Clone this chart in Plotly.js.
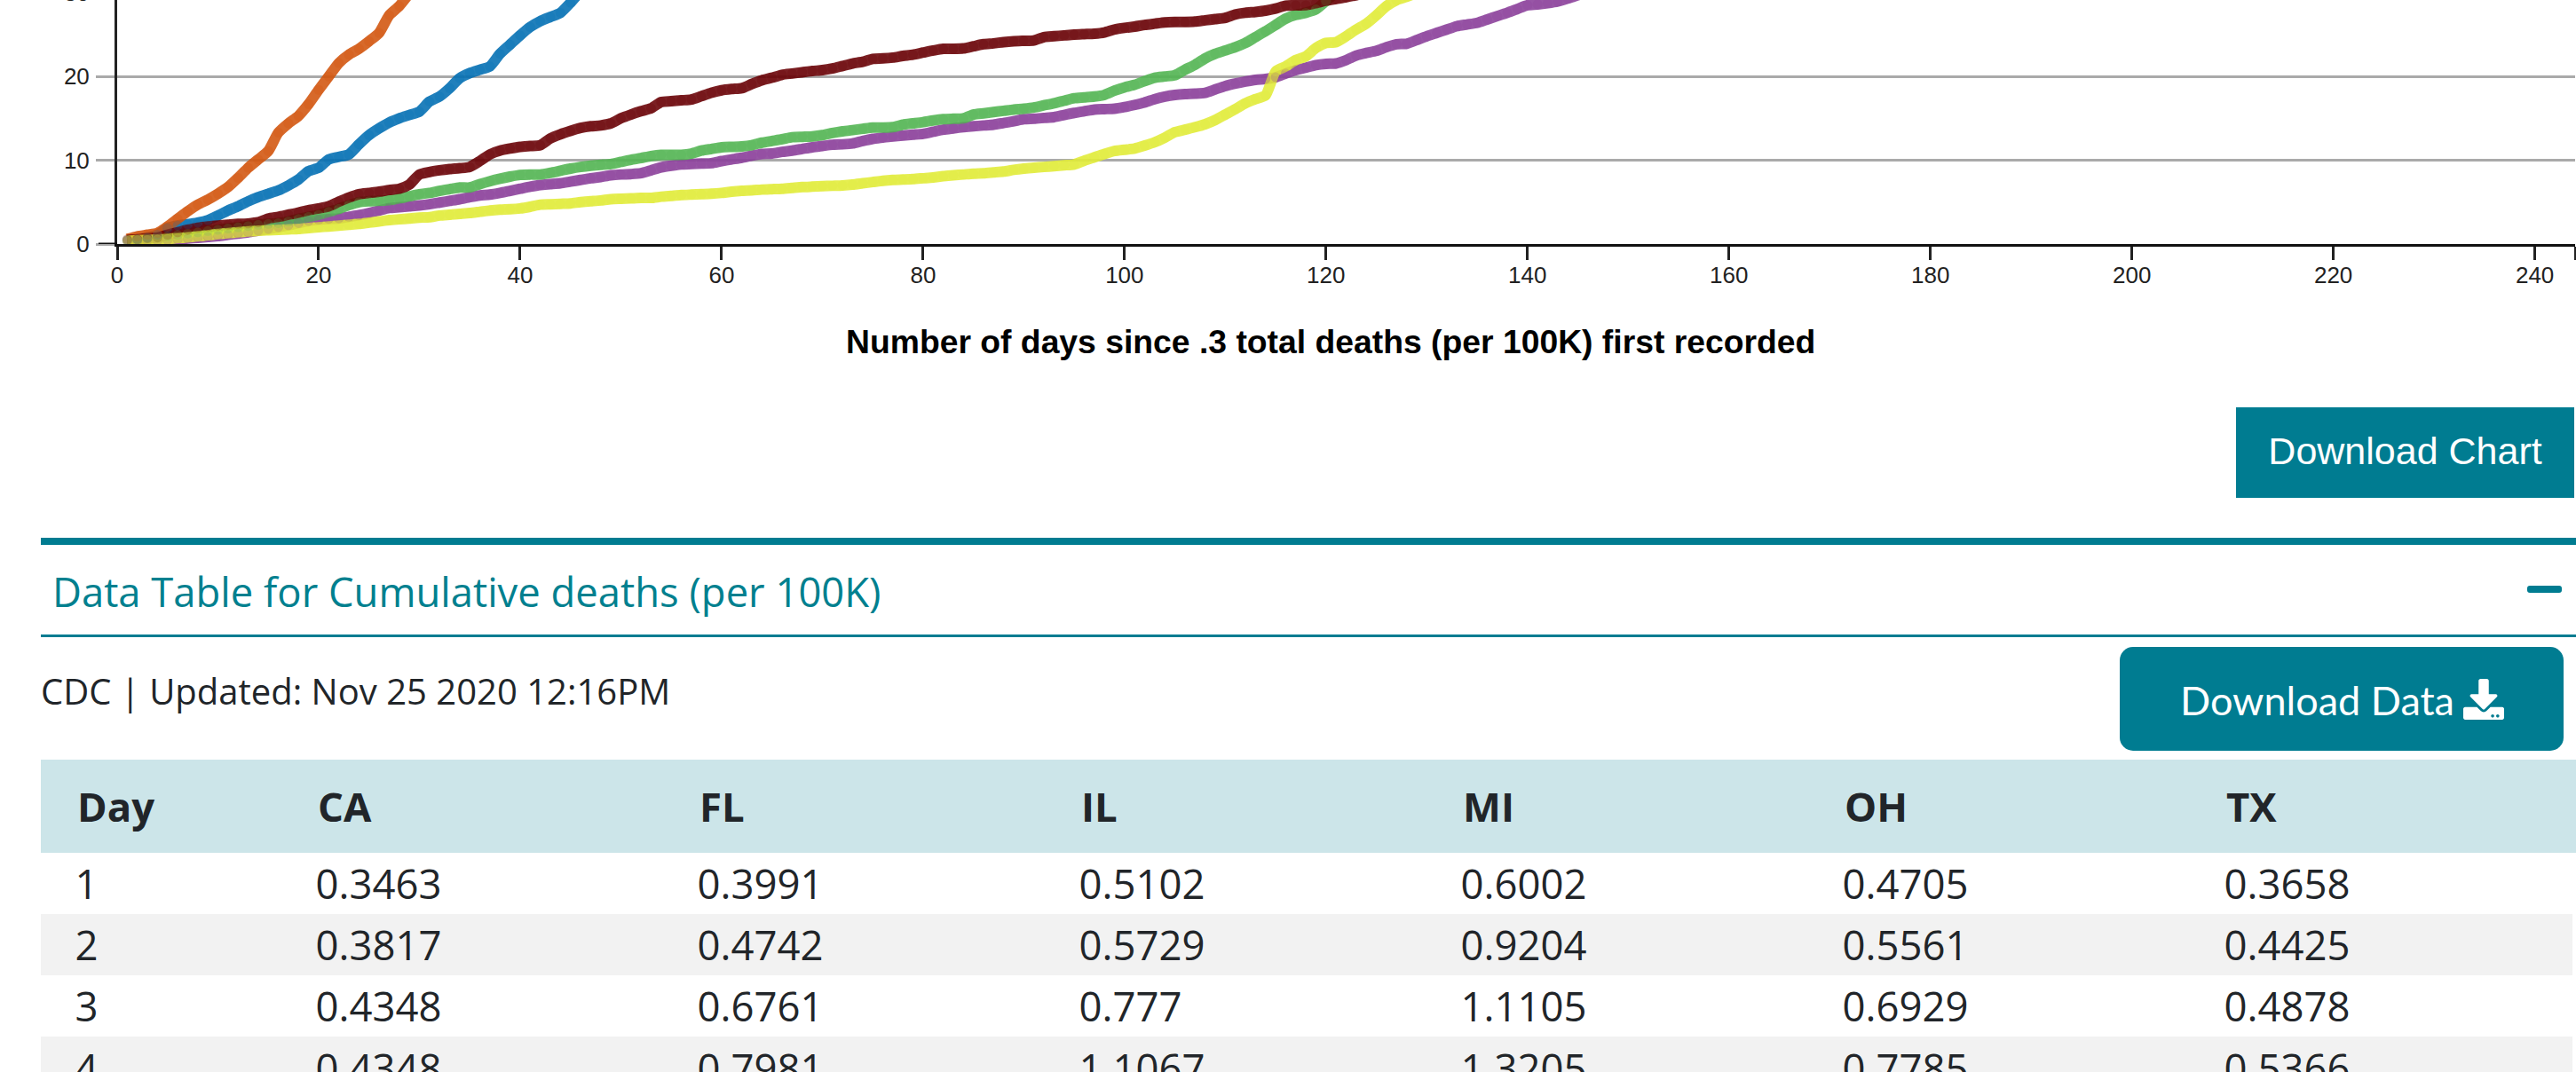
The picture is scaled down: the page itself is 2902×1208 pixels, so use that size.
<!DOCTYPE html>
<html>
<head>
<meta charset="utf-8">
<script src="https://cdn.plot.ly/plotly-3.0.1.min.js"></script>
<style>
html,body{margin:0;padding:0;background:#fff;width:2902px;height:1208px;overflow:hidden;}
#page{position:relative;width:2902px;height:1208px;overflow:hidden;background:#fff;}
#chart{position:absolute;left:0;top:-100px;width:2902px;height:560px;}
.abs{position:absolute;white-space:nowrap;}
table{position:absolute;left:46px;top:856px;width:2856px;border-collapse:collapse;table-layout:fixed;font-family:"Open Sans",sans-serif;color:#212529;font-size:45.5px;}
th{height:104.5px;padding:0 0 0 41px;text-align:left;font-weight:700;background:#cce5e9;}
td{height:69.3px;padding:0 0 0 38.5px;text-align:left;line-height:69px;}
tbody tr:nth-child(even) td{background:#f2f2f2;}
</style>
</head>
<body>
<div id="page">
<div id="chart"></div>
<div class="abs" style="left:2519px;top:459px;width:381px;height:102px;background:#007c91;color:#fff;font:43px/98px 'Liberation Sans',sans-serif;text-align:center;">Download Chart</div>
<div class="abs" style="left:46px;top:606px;width:2856px;height:8px;background:#007c91;"></div>
<div class="abs" style="left:59px;top:636px;font:45.4px/60px 'Open Sans',sans-serif;color:#00808f;" id="tableTitle"></div>
<div class="abs" style="left:2847px;top:660px;width:39px;height:8px;border-radius:3px;background:#007c91;"></div>
<div class="abs" style="left:46px;top:715px;width:2856px;height:3px;background:#007c91;"></div>
<div class="abs" style="left:46px;top:749px;font:40px/60px 'Open Sans',sans-serif;color:#212529;" id="sourceLine"></div>
<div class="abs" style="left:2388px;top:729px;width:500px;height:117px;border-radius:15px;background:#007c91;"></div>
<div class="abs" style="left:2456px;top:759px;font:45px/60px Lato,sans-serif;color:#fff;">Download Data</div>
<svg class="abs" style="left:2775px;top:765px;" width="46" height="46" viewBox="0 0 512 512"><path fill="#fff" d="M216 0h80c13.3 0 24 10.7 24 24v168h87.7c17.8 0 26.7 21.5 14.1 34.1L269.7 378.3c-7.5 7.5-19.8 7.5-27.3 0L90.1 226.1c-12.6-12.6-3.7-34.1 14.1-34.1H192V24c0-13.3 10.7-24 24-24zm296 376v112c0 13.3-10.7 24-24 24H24c-13.3 0-24-10.7-24-24V376c0-13.3 10.7-24 24-24h146.7l49 49c20.1 20.1 52.5 20.1 72.6 0l49-49H488c13.3 0 24 10.7 24 24zm-124 88c0-11-9-20-20-20s-20 9-20 20 9 20 20 20 20-9 20-20zm64 0c0-11-9-20-20-20s-20 9-20 20 9 20 20 20 20-9 20-20z"/></svg>
<table id="dataTable"><colgroup><col style="width:271px"><col style="width:430px"><col style="width:430px"><col style="width:430px"><col style="width:430px"><col style="width:430px"><col style="width:435px"></colgroup><thead></thead><tbody></tbody></table>
<div class="abs" style="left:2898px;top:961px;width:4px;height:247px;background:#fff;"></div>
</div>
<script>
const tableTitle = "Data Table for Cumulative deaths (per 100K)";
const sourceLine = "CDC | Updated: Nov 25 2020 12:16PM";
const xTitle = "Number of days since .3 total deaths (per 100K) first recorded";
const states = ["CA","FL","IL","MI","OH","TX"];
const xTicks = [0,20,40,60,80,100,120,140,160,180,200,220,240];
const yTicks = [0,10,20,30];

const ca = [0.3463,0.3817,0.4348,0.4348,.5,.55,.65,.75,.85,.95,1.1,1.25,1.4,1.6,1.8,2.0,2.25,2.5,2.75,2.9,3.0,3.05,3.25,3.45,3.7,4.0,4.3,4.4,4.5,4.6,4.75,4.95,5.15,5.35,5.6,5.8,5.9,6.1,6.35,6.6,6.85,7.05,7.15,7.25,7.45,7.65,7.85,8.0,8.2,8.3,8.35,8.45,8.8,9.15,9.35,9.5,9.55,9.6,9.65,9.9,10.1,10.3,10.55,10.75,10.8,11.0,11.15,11.35,11.55,11.7,11.85,11.9,12.0,12.3,12.55,12.7,12.85,12.95,13.05,13.15,13.4,13.65,13.8,13.95,14.05,14.15,14.25,14.45,14.65,14.9,14.95,15.05,15.15,15.4,15.65,15.85,16.05,16.1,16.15,16.35,16.6,16.9,17.3,17.6,17.8,17.9,17.95,18.05,18.45,18.85,19.15,19.4,19.6,19.7,19.9,20.35,20.75,21.05,21.35,21.5,21.55,21.95,22.5,22.8,23.05,23.5,23.85,23.9,24.35,24.8,25.2,25.6,26,26.2,26.4,26.8,27.2,27.6,28.05,28.5,28.6,28.75,28.95,29.3,29.7,30.1,30.5,31];
const fl = [0.3991,0.4742,0.6761,0.7981,.95,1.1,1.25,1.4,1.55,1.7,1.85,2.0,2.15,2.3,2.4,2.5,2.7,3.0,3.25,3.5,3.85,4.2,4.65,5.0,5.1,5.15,5.25,5.45,5.7,5.95,6.1,6.35,6.55,6.75,6.75,7.15,7.5,7.8,8.05,8.25,8.3,8.3,8.5,8.75,9.0,9.2,9.35,9.45,9.55,9.8,10.05,10.25,10.5,10.65,10.65,10.65,10.8,11.15,11.35,11.55,11.6,11.65,11.8,12.1,12.3,12.5,12.75,12.8,12.85,13,13.25,13.45,13.6,13.75,13.9,13.9,13.95,14.25,14.4,14.55,14.75,14.9,14.95,15.0,15.45,15.6,15.75,15.9,16.05,16.15,16.3,16.55,16.8,17.1,17.4,17.5,17.6,17.8,18.3,18.7,19,19.45,19.85,20.0,20.15,20.8,21.4,22.15,22.7,23.1,23.5,24.0,24.7,25.4,26.15,26.9,27.35,27.6,28,29,30,31,32];
const il = [0.5102,0.5729,0.777,1.1067,1.9,2.2,2.35,2.55,2.85,3.4,4.0,4.5,5.1,5.6,6.0,6.4,7.0,7.7,8.7,9.1,10.1,10.4,10.7,11.9,13.0,13.8,14.5,15.0,15.4,15.8,17.0,17.6,18.6,19.8,20.4,20.8,21.2,22.7,23.8,24.9,25.9,26.6,27.1,27.6,28.8,30.2,31.8,33];
const mi = [0.6002,0.9204,1.1105,1.3205,2.1,3.0,3.9,4.7,5.3,6.0,6.8,7.9,9.1,10.1,11.1,13.3,14.4,15.3,16.7,18.4,20.0,21.6,22.6,23.3,24.2,25.2,27.3,28.4,29.9,31.5,33,34.6];
const oh = [0.4705,0.5561,0.6929,0.7785,1.1,1.4,1.7,1.95,2.1,2.2,2.3,2.4,2.45,2.6,3.05,3.25,3.5,3.75,4.05,4.25,4.5,5.05,5.55,5.95,6.1,6.25,6.45,6.6,7.1,8.3,8.6,8.8,8.95,9.05,9.2,9.9,10.7,11.15,11.4,11.6,11.7,11.8,12.6,13.1,13.5,13.85,14.05,14.15,14.4,15.0,15.45,15.85,16.2,16.95,17.05,17.15,17.25,17.65,18.05,18.35,18.5,18.6,19.1,19.55,19.85,20.2,20.35,20.5,20.65,20.75,20.95,21.25,21.55,21.75,22.1,22.15,22.25,22.45,22.6,22.85,23.1,23.3,23.3,23.35,23.6,23.85,23.95,24.1,24.2,24.25,24.3,24.7,24.8,24.9,25,25.05,25.1,25.25,25.6,25.8,25.95,26.15,26.3,26.45,26.5,26.5,26.55,26.7,26.85,27.0,27.4,27.6,27.7,27.85,28.1,28.45,28.5,28.5,28.75,29.05,29.25,29.45,29.7,30,30.4,30.8];
const tx = [0.3658,0.4425,0.4878,0.5366,.6,.7,.8,.92,1.05,1.2,1.3,1.4,1.5,1.6,1.65,1.7,1.75,1.8,1.9,2.0,2.1,2.2,2.3,2.4,2.55,2.7,2.85,2.95,3.05,3.15,3.2,3.4,3.5,3.6,3.7,3.85,4.0,4.1,4.15,4.25,4.45,4.7,4.75,4.8,4.85,5.0,5.1,5.2,5.35,5.4,5.45,5.5,5.5,5.65,5.75,5.85,5.9,5.95,6.0,6.1,6.25,6.35,6.4,6.5,6.55,6.6,6.7,6.8,6.85,6.9,6.95,7.0,7.1,7.25,7.4,7.55,7.65,7.7,7.75,7.85,7.95,8.1,8.2,8.3,8.4,8.45,8.55,8.65,8.85,9,9.1,9.2,9.3,9.4,9.5,9.95,10.35,10.75,11.1,11.25,11.4,11.75,12.15,12.7,13.35,13.65,13.95,14.3,14.8,15.45,16.1,16.8,17.3,17.75,20.6,21.2,21.95,22.4,23.4,24,24.1,24.8,25.6,26.3,27.3,28.4,29.1,29.5,30,30.6,31.2];

const seriesValues = [ca, fl, il, mi, oh, tx];
const lineColors = ["rgba(138,63,154,.88)","rgba(82,181,82,.88)","rgba(2,110,179,.88)","rgba(210,84,12,.88)","rgba(105,0,4,.88)","rgba(225,236,56,.88)"];
const beadColors = ["rgba(138,63,154,.25)","rgba(82,181,82,.25)","rgba(2,110,179,.25)","rgba(210,84,12,.25)","rgba(105,0,4,.25)","rgba(225,236,56,.25)"];

const traces = [];
seriesValues.forEach((vals, i) => {
  traces.push({type:"scatter",mode:"lines",name:states[i],x:vals.map((_,d)=>d+1),y:vals,cliponaxis:false,
    line:{color:lineColors[i],width:12,shape:"spline",smoothing:0.6,simplify:false},showlegend:false,hoverinfo:"skip"});
});
seriesValues.forEach((vals, i) => {
  traces.push({type:"scatter",mode:"markers",name:states[i],x:vals.map((_,d)=>d+1),y:vals,cliponaxis:false,
    marker:{color:beadColors[i],size:11,line:{width:0}},showlegend:false,hoverinfo:"skip"});
});

const W = 2902, H = 560, PH = 375.3, PW = 2769, LEFT = 132;
const layout = {
  width:W,height:H,paper_bgcolor:"rgba(0,0,0,0)",plot_bgcolor:"#fff",showlegend:false,
  margin:{l:LEFT,r:W-LEFT-PW,t:0,b:H-PH,pad:0},
  font:{family:"'Liberation Sans',Arial,sans-serif",size:26,color:"#222"},
  xaxis:{range:[0,244],tickmode:"array",tickvals:xTicks.concat([244]),ticktext:xTicks.map(String).concat([""]),
    ticks:"outside",ticklen:15,tickwidth:3,tickcolor:"#222",showgrid:false,zeroline:false,
    showline:true,linecolor:"#111",linewidth:3,tickfont:{size:26,color:"#222"},ticklabelstandoff:-5},
  yaxis:{range:[0,PH/9.45],tickmode:"array",tickvals:yTicks,ticktext:yTicks.map(String),
    ticks:"outside",ticklen:21,tickwidth:3,tickcolor:"#aaa",showgrid:true,gridcolor:"#aaa",gridwidth:3,zeroline:false,
    showline:true,linecolor:"#222",linewidth:3,tickfont:{size:26,color:"#222"},ticklabelstandoff:2},
  shapes:[{type:"line",xref:"paper",yref:"y",x0:-21/PW,x1:0,y0:0,y1:0,line:{color:"#111",width:3}}],
  annotations:[{xref:"paper",yref:"paper",x:(1499-LEFT)/PW,y:(275.3-385)/PH,xanchor:"center",yanchor:"middle",showarrow:false,
    text:"<b>"+xTitle+"</b>",font:{family:"'Liberation Sans',Arial,sans-serif",size:37.3,color:"#000"}}]
};
Plotly.newPlot("chart",traces,layout,{displayModeBar:false,staticPlot:true});

document.getElementById("tableTitle").textContent = tableTitle;
document.getElementById("sourceLine").textContent = sourceLine;
const head = document.querySelector("#dataTable thead");
head.innerHTML = "<tr><th>Day</th>"+states.map(s=>"<th>"+s+"</th>").join("")+"</tr>";
const body = document.querySelector("#dataTable tbody");
body.innerHTML = [0,1,2,3].map(r=>"<tr><td>"+(r+1)+"</td>"+seriesValues.map(v=>"<td>"+v[r]+"</td>").join("")+"</tr>").join("");
</script>
</body>
</html>
